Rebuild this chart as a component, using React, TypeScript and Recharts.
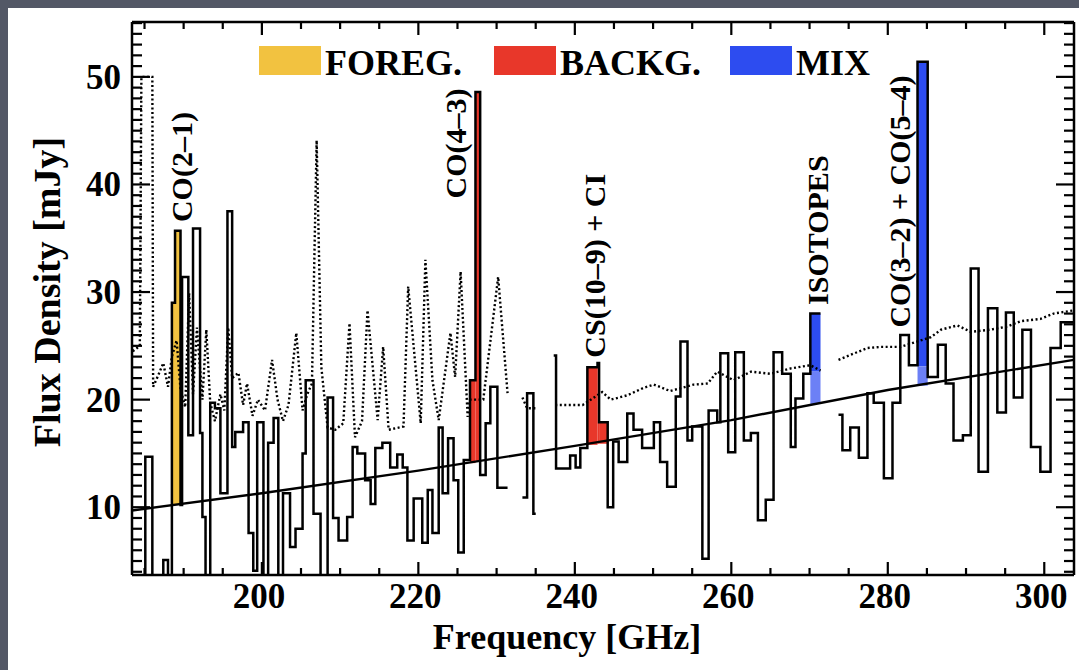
import { ComposedChart, Line, XAxis, YAxis, ReferenceArea, ReferenceDot } from "recharts";

// histogram bin edges (GHz) and flux per bin (mJy); null = no data
const binEdges = [
  183.4, 185.1, 186.0, 187.4, 188.0, 188.5, 188.9, 189.6, 189.8, 190.6,
  191.2, 192.1, 192.4, 192.8, 193.4, 194.0, 194.7, 195.6, 196.2, 196.6,
  197.6, 198.3, 198.9, 199.4, 200.2, 200.8, 201.5, 202.1, 202.7, 203.6,
  204.3, 205.2, 205.6, 206.6, 207.5, 208.4, 209.1, 209.8, 210.9, 211.6,
  212.2, 213.2, 213.9, 214.5, 215.4, 216.4, 217.3, 218.0, 218.6, 219.4,
  220.5, 221.2, 221.8, 222.6, 223.1, 223.8, 224.5, 225.1, 225.8, 226.6,
  227.3, 227.9, 228.6, 229.2, 230.1, 231.4, 233.3, 233.9, 234.7, 235.0,
  237.3, 237.6, 239.4, 240.1, 240.7, 241.6, 242.9, 243.1, 244.2, 244.9,
  245.6, 246.7, 247.5, 248.6, 250.1, 250.9, 251.8, 252.9, 253.5, 254.4,
  255.0, 256.3, 257.1, 258.2, 258.6, 259.6, 260.5, 261.6, 262.5, 263.4,
  264.4, 265.4, 266.5, 267.6, 268.2, 269.2, 270.1, 271.4, 273.7, 274.2,
  275.2, 276.3, 277.4, 278.2, 279.5, 280.6, 281.6, 282.7, 283.8, 285.1,
  286.4, 287.4, 288.4, 289.6, 290.6, 291.6, 292.8, 294.0, 295.1, 296.1,
  297.2, 298.3, 299.5, 300.8, 302.1, 303.8,
];
const binFlux = [
  2, 14.7, 2, 5.1, 2, 29.0, 35.7, 10.2, 31.4, 16.7,
  35.9, 16.9, 9.1, 2, 19.7, 19.2, 11.3, 37.5, 15.6, 17.0,
  17.9, 7.6, 4.1, 17.9, 2, 16.0, 18.3, 2, 11.3, 6.3,
  8.0, 15.0, 21.8, 9.4, 2, 20.2, 9.0, 6.9, 9.1, 15.6,
  15.0, 12.5, 10.3, 15.5, 16.0, 13.7, 14.9, 13.7, 6.9, 10.8,
  6.7, 11.6, 7.6, 17.4, 11.3, 16.4, 12.5, 5.8, 14.4, 21.8,
  48.6, 13.0, 17.8, 21.2, 11.8, null, 10.9, 20.6, 9.4, null,
  24.1, 13.6, 14.8, 13.7, 15.5, 23.0, 23.4, 17.9, 10.0, 16.1,
  14.2, 18.7, 17.2, 15.5, 17.9, 14.2, 11.9, 20.3, 25.4, 16.2,
  17.5, 5.2, 19.0, 17.9, 24.3, 15.1, 24.4, 16.2, 16.9, 8.8,
  10.7, 24.4, 22.4, 15.6, 20.1, 22.4, 28.0, null, 18.6, 15.3,
  17.4, 14.6, 20.6, 19.7, 12.7, 19.7, 26.0, 23.2, 51.4, 22.1,
  25.1, 21.5, 16.2, 16.7, 32.2, 13.3, 28.5, 18.8, 28.1, 20.2,
  26.5, 15.6, 13.3, 24.8, 27.2,
];

// dotted noise curve
const noiseFreq = [
  183.5, 184.4, 184.6, 186.0, 186.1, 186.6, 187.4, 188.0, 188.5, 189.1,
  189.6, 190.2, 190.7, 191.2, 191.7, 192.4, 192.9, 193.4, 194.0, 194.7,
  195.2, 195.7, 196.2, 197.0, 197.6, 198.1, 198.8, 199.5, 200.4, 201.3,
  202.0, 202.7, 203.4, 204.4, 205.2, 205.8, 206.4, 207.0, 207.6, 208.4,
  209.4, 210.4, 211.2, 211.9, 212.8, 213.5, 214.8, 215.5, 216.2, 218.1,
  218.7, 220.3, 220.9, 221.8, 222.6, 224.1, 224.7, 225.4, 226.3, 226.6,
  228.3, 230.2, 231.4, 231.5, 233.3, 233.9, 235.2, 235.3, 237.5, 241.0,
  243.5, 244.6, 246.7, 248.8, 250.1, 252.2, 255.2, 257.0, 258.2, 260.3,
  262.5, 265.0, 267.6, 270.1, 271.4, 271.5, 273.7, 277.4, 279.1, 281.6,
  285.5, 286.8, 288.9, 290.6, 293.1, 295.3, 297.0, 299.5, 301.2, 303.8,
];
const noiseFlux = [
  24.5, 25.0, 50.0, 50.0, 21.2, 22.0, 23.4, 21.2, 24.0, 25.5,
  21.0, 19.3, 29.9, 20.5, 26.7, 20.0, 26.5, 19.7, 18.0, 20.5,
  19.0, 26.7, 22.0, 22.5, 19.5, 21.5, 18.5, 20.0, 19.0, 23.7,
  20.0, 18.0, 19.5, 26.2, 19.0, 20.5, 21.5, 44.1, 23.0, 17.4,
  17.2, 17.8, 27.1, 16.5, 18.0, 28.3, 18.1, 24.9, 17.2, 17.5,
  30.5, 17.8, 33.0, 21.8, 18.1, 26.2, 22.1, 31.9, 18.4, 20.0,
  20.0, 31.4, 20.6, null, 20.2, 19.2, 19.2, null, 19.5, 19.5,
  20.7, 20.0, 20.4, 21.1, 21.4, 20.8, 21.4, 21.5, 22.6, 21.8,
  22.6, 22.4, 22.9, 23.2, 22.7, null, 23.7, 24.8, 24.9, 24.9,
  25.8, 26.5, 26.9, 26.3, 26.5, 26.8, 27.3, 27.5, 28.0, 28.3,
];

// continuum fit
const continuumFreq = [183.4, 200, 220, 240, 260, 280, 303.8];
const continuumFlux = [9.7, 11.3, 13.4, 15.7, 18.1, 20.9, 23.7];

// highlighted line bins
const foregroundBins = [
  { lo: 188.5, hi: 188.9, base: 10.3, top: 29.0 },
  { lo: 188.9, hi: 189.6, base: 10.3, top: 35.7 },
];
const backgroundBins = [
  { lo: 226.6, hi: 227.3, base: 14.1, top: 21.8 },
  { lo: 227.3, hi: 227.9, base: 14.2, top: 48.6 },
  { lo: 241.6, hi: 242.9, base: 15.8, top: 23.0 },
  { lo: 242.9, hi: 243.1, base: 15.9, top: 23.4 },
  { lo: 243.1, hi: 244.2, base: 15.9, top: 17.9 },
];
const mixBins = [
  { lo: 270.1, hi: 271.4, base: 19.6, mid: 22.6, top: 28.0 },
  { lo: 283.8, hi: 285.1, base: 21.3, mid: 23.1, top: 51.4 },
];

const lineLabels = [
  { text: "CO(2–1)", freq: 191.1, flux: 36.5 },
  { text: "CO(4–3)", freq: 226.1, flux: 38.7 },
  { text: "CS(10–9) + CI", freq: 243.8, flux: 23.9 },
  { text: "ISOTOPES", freq: 272.3, flux: 28.8 },
  { text: "CO(3–2) + CO(5–4)", freq: 282.8, flux: 26.7 },
];

const legendItems = [
  { name: "FOREG.", color: "#f2c240" },
  { name: "BACKG.", color: "#e8372a" },
  { name: "MIX", color: "#2d4cf0" },
];

const xTicks = [185, 190, 195, 200, 205, 210, 215, 220, 225, 230, 235, 240, 245, 250, 255, 260, 265, 270, 275, 280, 285, 290, 295, 300];
const yTicks = Array.from({ length: 52 }, (_, i) => i + 4);

const COLORS = { fg: "#f2c240", bg: "#e8372a", mix: "#2d4cf0", mixLight: "#6c80f6" };
const serif = "'Liberation Serif', 'Times New Roman', serif";
const tickFont = { fontFamily: serif, fontWeight: 700, fontSize: 35, fill: "#000" };

// step points for the histogram
const spectrumPoints: { freq: number; flux: number | null }[] = [];
for (let i = 0; i < binFlux.length && i + 1 < binEdges.length; i++) {
  const v = binFlux[i];
  spectrumPoints.push({ freq: binEdges[i], flux: v });
  const next = i + 1 < binFlux.length ? binFlux[i + 1] : null;
  if (v !== null && next === null) spectrumPoints.push({ freq: binEdges[i + 1], flux: v });
}
const noisePoints = noiseFreq.map((f, i) => ({ freq: f, flux: noiseFlux[i] }));
const continuumPoints = continuumFreq.map((f, i) => ({ freq: f, flux: continuumFlux[i] }));

const tickPath = (d: string) => <path d={d} stroke="#000" strokeWidth={2.2} fill="none" />;

const BottomTick = (props: any) => {
  const { x, y, payload } = props;
  const major = payload.value % 20 === 0;
  return (
    <g>
      {tickPath(`M${x},${y}V${y - (major ? 13 : 7)}`)}
      {major && (
        <text x={x - 3} y={y + 33} textAnchor="middle" style={tickFont}>
          {payload.value}
        </text>
      )}
    </g>
  );
};

const TopTick = (props: any) => {
  const { x, y, payload } = props;
  const major = payload.value % 20 === 0;
  return <g>{tickPath(`M${x},${y}V${y + (major ? 13 : 7)}`)}</g>;
};

const LeftTick = (props: any) => {
  const { x, y, payload } = props;
  const major = payload.value % 10 === 0;
  return (
    <g>
      {tickPath(`M${x},${y}H${x + (major ? 18 : 10)}`)}
      {major && (
        <text x={x - 11} y={y} dy={12} textAnchor="end" style={tickFont}>
          {payload.value}
        </text>
      )}
    </g>
  );
};

const RightTick = (props: any) => {
  const { x, y, payload } = props;
  const major = payload.value % 10 === 0;
  return <g>{tickPath(`M${x},${y}H${x - (major ? 18 : 10)}`)}</g>;
};

const labelShape = (text: string) => (p: any) => (
  <text
    transform={`translate(${p.cx},${p.cy}) rotate(-90)`}
    textAnchor="start"
    style={{ fontFamily: serif, fontWeight: 700, fontSize: 30, fill: "#000" }}
  >
    {text}
  </text>
);

export default function App() {
  return (
    <div style={{ position: "fixed", left: 0, top: 0, width: 1079, height: 670, background: "#535866", overflow: "hidden" }}>
      <div style={{ position: "absolute", left: 8, top: 8, right: 0, bottom: 0, background: "#fff" }} />
      <div style={{ position: "absolute", left: 0, top: 0 }}>
        <ComposedChart width={1079} height={670} margin={{ top: 8, right: 0, bottom: 0, left: 8 }}>
          <XAxis
            dataKey="freq"
            type="number"
            domain={[183.4, 303.8]}
            allowDataOverflow
            ticks={xTicks}
            interval={0}
            tickSize={0}
            tickMargin={0}
            tickLine={false}
            tick={BottomTick}
            height={95}
            axisLine={{ stroke: "#000", strokeWidth: 2.5 }}
          />
          <XAxis
            xAxisId="top"
            orientation="top"
            dataKey="freq"
            type="number"
            domain={[183.4, 303.8]}
            allowDataOverflow
            ticks={xTicks}
            interval={0}
            tickSize={0}
            tickMargin={0}
            tickLine={false}
            tick={TopTick}
            height={14}
            axisLine={{ stroke: "#000", strokeWidth: 2.5 }}
          />
          <YAxis
            type="number"
            domain={[3.7, 55.1]}
            allowDataOverflow
            ticks={yTicks}
            interval={0}
            tickSize={0}
            tickMargin={0}
            tickLine={false}
            tick={LeftTick}
            width={124}
            axisLine={{ stroke: "#000", strokeWidth: 2.5 }}
          />
          <YAxis
            yAxisId="right"
            orientation="right"
            type="number"
            domain={[3.7, 55.1]}
            allowDataOverflow
            ticks={yTicks}
            interval={0}
            tickSize={0}
            tickMargin={0}
            tickLine={false}
            tick={RightTick}
            width={5}
            axisLine={{ stroke: "#000", strokeWidth: 2.5 }}
          />

          {foregroundBins.map((b, i) => (
            <ReferenceArea key={`fg-${i}`} x1={b.lo} x2={b.hi} y1={b.base} y2={b.top} fill={COLORS.fg} fillOpacity={1} stroke="none" ifOverflow="hidden" />
          ))}
          {backgroundBins.map((b, i) => (
            <ReferenceArea key={`bg-${i}`} x1={b.lo} x2={b.hi} y1={b.base} y2={b.top} fill={COLORS.bg} fillOpacity={1} stroke="none" ifOverflow="hidden" />
          ))}
          {mixBins.map((b, i) => (
            <ReferenceArea key={`mx-${i}`} x1={b.lo} x2={b.hi} y1={b.mid} y2={b.top} fill={COLORS.mix} fillOpacity={1} stroke="none" ifOverflow="hidden" />
          ))}
          {mixBins.map((b, i) => (
            <ReferenceArea key={`ml-${i}`} x1={b.lo} x2={b.hi} y1={b.base} y2={b.mid} fill={COLORS.mixLight} fillOpacity={1} stroke="none" ifOverflow="hidden" />
          ))}

          <Line
            data={noisePoints}
            dataKey="flux"
            type="linear"
            stroke="#000"
            strokeWidth={2.4}
            strokeDasharray="2 2.5"
            dot={false}
            activeDot={false}
            connectNulls={false}
            isAnimationActive={false}
          />
          <Line
            data={spectrumPoints}
            dataKey="flux"
            type="stepAfter"
            stroke="#000"
            strokeWidth={2.5}
            dot={false}
            activeDot={false}
            connectNulls={false}
            isAnimationActive={false}
          />
          <Line
            data={continuumPoints}
            dataKey="flux"
            type="linear"
            stroke="#000"
            strokeWidth={2.4}
            dot={false}
            activeDot={false}
            isAnimationActive={false}
          />

          {lineLabels.map((l) => (
            <ReferenceDot key={l.text} x={l.freq} y={l.flux} r={1} shape={labelShape(l.text)} />
          ))}
        </ComposedChart>
      </div>
      <svg width={1079} height={670} style={{ position: "absolute", left: 0, top: 0, pointerEvents: "none" }}>
        {legendItems.map((item, i) => {
          const x0 = [259, 494, 730][i];
          return (
            <g key={item.name}>
              <rect x={x0} y={46} width={62} height={29} fill={item.color} />
              <text x={x0 + 66} y={75} style={{ fontFamily: serif, fontWeight: 700, fontSize: 36, fill: "#000" }}>
                {item.name}
              </text>
            </g>
          );
        })}
        <text x={567} y={649} textAnchor="middle" style={{ fontFamily: serif, fontWeight: 700, fontSize: 36, fill: "#000" }}>
          Frequency [GHz]
        </text>
        <text
          transform="translate(60,292) rotate(-90)"
          textAnchor="middle"
          style={{ fontFamily: serif, fontWeight: 700, fontSize: 38, fill: "#000" }}
        >
          Flux Density [mJy]
        </text>
      </svg>
    </div>
  );
}
